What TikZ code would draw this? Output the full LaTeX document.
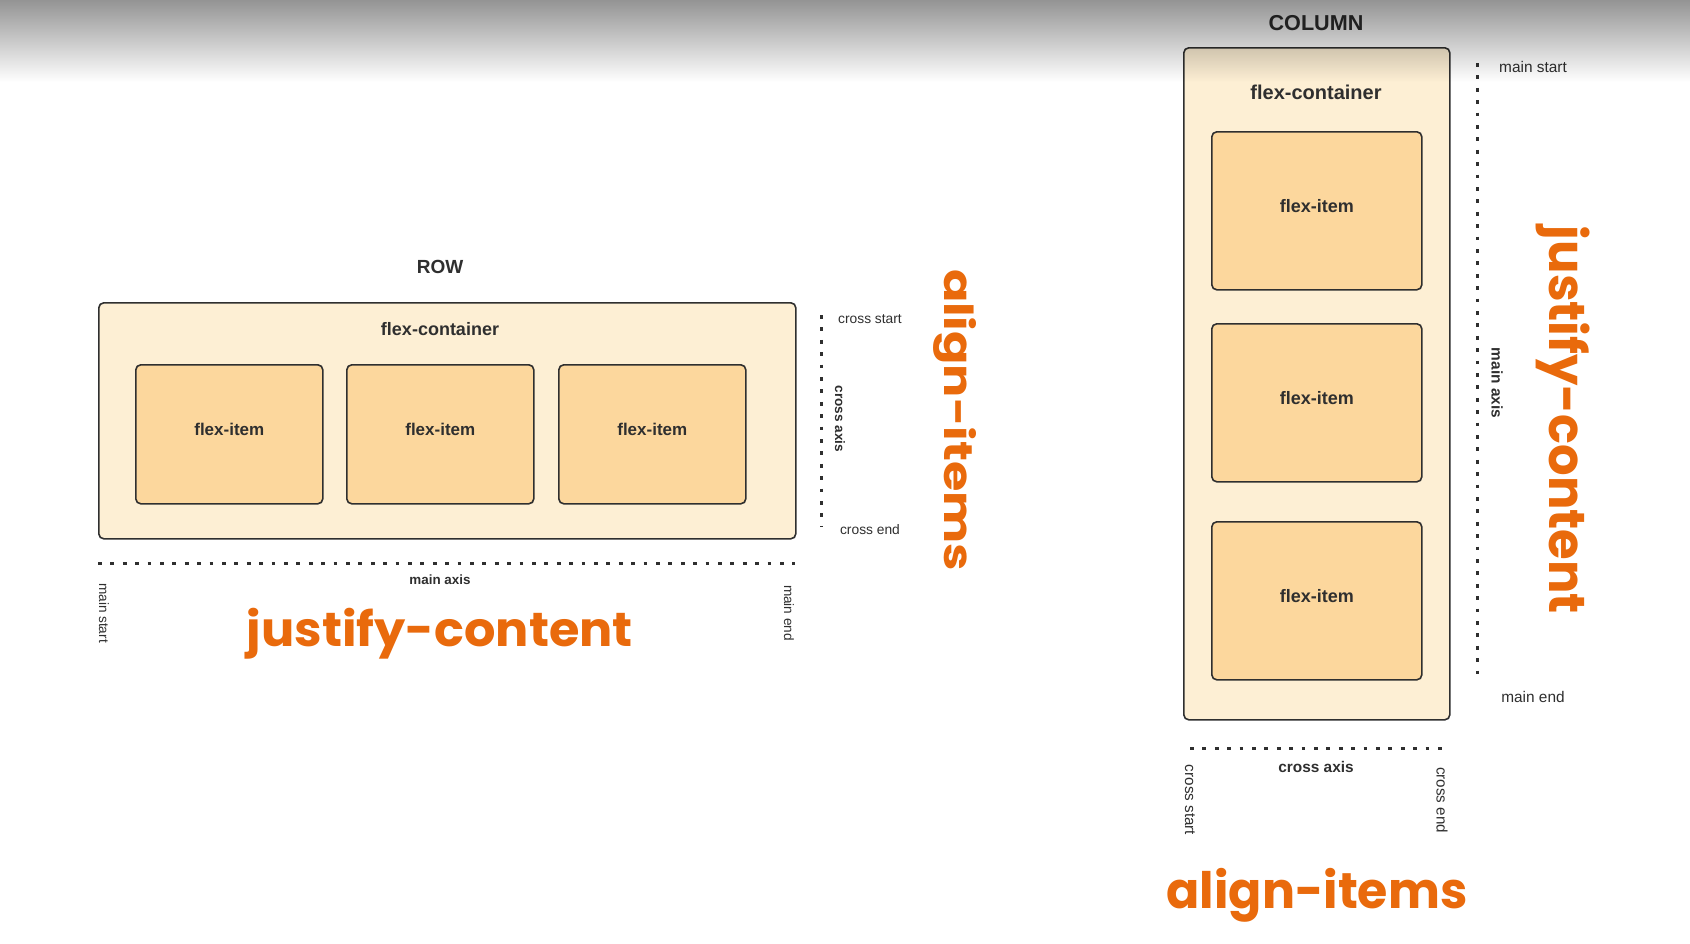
\documentclass[tikz,border=0pt]{standalone}
\usepackage{fontspec}
\setmainfont{Liberation Sans}
\newfontfamily\popfont{Poppins}
\usepackage{xcolor}
\definecolor{ink}{HTML}{2F2F2F}
\definecolor{flexorange}{HTML}{E96A0C}
\definecolor{boxcream}{HTML}{FDEFD4}
\definecolor{itemtan}{HTML}{FCD79D}
\usepackage{graphicx}
\usetikzlibrary{positioning,calc}
\tikzset{container/.style={draw=ink,line width=0.8pt,rounded corners=2.5pt,fill=boxcream,anchor=north west},
         flexitem/.style={draw=ink,line width=0.8pt,rounded corners=2.5pt,fill=itemtan,text=ink,text depth=5pt,anchor=north west},
         axisline/.style={draw=ink,line width=1.5pt,dash pattern=on 1.9pt off 4.3pt},
         lbl/.style={text=ink,inner sep=0pt},
         bigword/.style={text=flexorange,inner sep=0pt,font=\popfont\bfseries}}
\newcommand{\fs}[1]{\fontsize{#1}{#1}\selectfont}

\begin{document}
\begin{tikzpicture}[x=0.5pt,y=-0.5pt]
\useasboundingbox[fill=white] (0,0) rectangle (1690,943);

% ---- row ----
\node[lbl,font=\bfseries\fs{9.5}] (rowtitle) at (440,267) {ROW};
\node[container,minimum width=348.5pt,minimum height=118pt] (rowbox) at (98,302) {};
\node[lbl,font=\bfseries\fs{9}] (rowname) at (440,329) {flex-container};
\foreach \x [count=\i] in {135,346,558}
  \node[flexitem,minimum width=93.5pt,minimum height=69.5pt,font=\bfseries\fs{8.5}] (ritem\i) at (\x,364) {flex-item};

\coordinate (rmainA) at (98,563);
\coordinate (rmainB) at (795,563);
\draw[axisline] (rmainA) -- (rmainB);
\node[lbl,font=\bfseries\fs{6.7}] (rmainlbl) at (440,580) {main axis};
\node[lbl,font=\fs{6.8},rotate=-90] (rmainstart) at (104,613) {main start};
\node[lbl,font=\fs{6.8},rotate=-90] (rmainend) at (789,613) {main end};
\node[bigword] (rjustify) at (440,634) {\resizebox*{193pt}{25.5pt}{justify-content}};

\coordinate (rcrossA) at (821,315);
\coordinate (rcrossB) at (821,526);
\draw[axisline] (rcrossA) -- (rcrossB);
\node[lbl,font=\fs{6.9}] (rcrossstart) at (870,319) {cross start};
\node[lbl,font=\fs{6.9}] (rcrossend) at (870,530) {cross end};
\node[lbl,font=\bfseries\fs{6.8},rotate=-90] (rcrosslbl) at (840,419) {cross axis};
\node[bigword,rotate=-90] (ralign) at (955,420) {\resizebox*{151pt}{21.5pt}{align-items}};

% ---- column ----
\node[lbl,font=\bfseries\fs{10.8}] (coltitle) at (1316,23) {COLUMN};
\node[container,minimum width=133pt,minimum height=336pt] (colbox) at (1183,47) {};
\node[lbl,font=\bfseries\fs{10}] (colname) at (1316,92) {flex-container};
\foreach \y [count=\i] in {131,323,521}
  \node[flexitem,minimum width=105pt,minimum height=79pt,font=\bfseries\fs{9}] (citem\i) at (1211,\y) {flex-item};

\coordinate (cmainA) at (1477,63);
\coordinate (cmainB) at (1477,676);
\draw[axisline] (cmainA) -- (cmainB);
\node[lbl,font=\fs{7.7}] (cmainstart) at (1533,67) {main start};
\node[lbl,font=\fs{7.7}] (cmainend) at (1533,697) {main end};
\node[lbl,font=\bfseries\fs{7.7},rotate=-90] (cmainlbl) at (1497,383) {main axis};
\node[bigword,rotate=-90] (cjustify) at (1563,420) {\resizebox*{194pt}{27pt}{justify-content}};

\coordinate (ccrossA) at (1190,748);
\coordinate (ccrossB) at (1442,748);
\draw[axisline] (ccrossA) -- (ccrossB);
\node[lbl,font=\bfseries\fs{7.7}] (ccrosslbl) at (1316,767) {cross axis};
\node[lbl,font=\fs{7.6},rotate=-90] (ccrossstart) at (1190,800) {cross start};
\node[lbl,font=\fs{7.6},rotate=-90] (ccrossend) at (1442,800) {cross end};
\node[bigword] (calign) at (1317,895) {\resizebox*{150.5pt}{27pt}{align-items}};

% top shadow
\begin{scope}[blend mode=multiply]
\shade[top color=black!42,bottom color=white] (0,0) rectangle (1690,82);
\end{scope}
\end{tikzpicture}
\end{document}
